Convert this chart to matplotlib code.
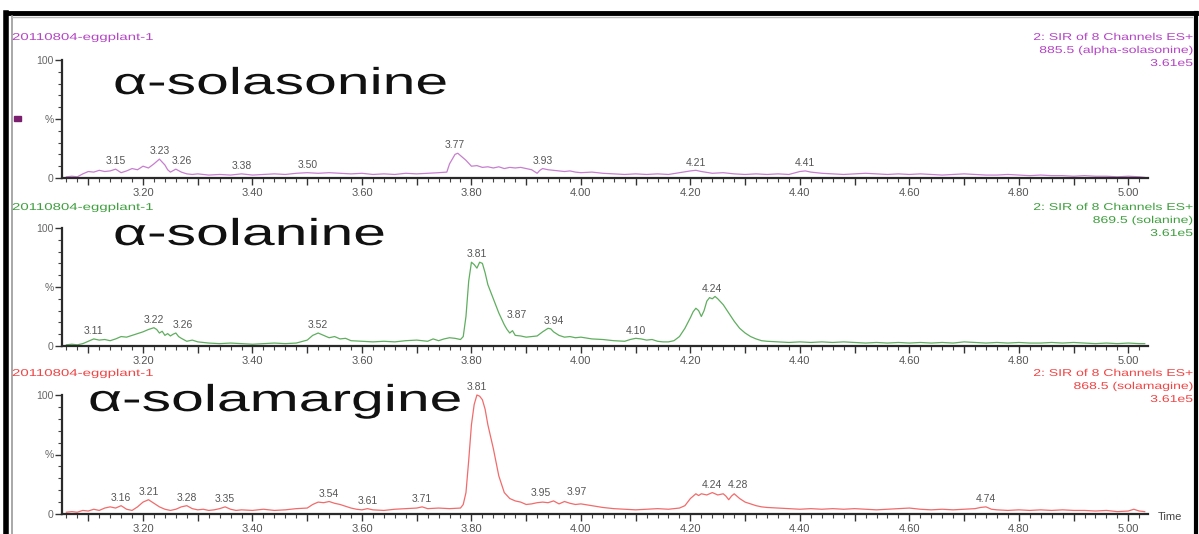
import numpy as np
import matplotlib
matplotlib.use("Agg")
import matplotlib.pyplot as plt
from matplotlib.patheffects import AbstractPathEffect
from matplotlib.transforms import Affine2D
from matplotlib.ticker import MultipleLocator, FixedLocator, FuncFormatter
from matplotlib.lines import Line2D
from matplotlib.patches import Rectangle

plt.rcParams["font.family"] = ["Liberation Sans", "DejaVu Sans"]

# ---------------------------------------------------------------- data
sample_name = "20110804-eggplant-1"
channel_title = "2: SIR of 8 Channels ES+"
scale_label = "3.61e5"
compounds = ["α-solasonine", "α-solanine", "α-solamargine"]
channels = ["885.5 (alpha-solasonine)", "869.5 (solanine)", "868.5 (solamagine)"]

solasonine_t = [3.06, 3.07, 3.08, 3.09, 3.10, 3.11, 3.12, 3.13, 3.14, 3.15, 3.16, 3.17, 3.18, 3.19,
                3.20, 3.21, 3.22, 3.23, 3.24, 3.245, 3.25, 3.26, 3.27, 3.28, 3.29, 3.30, 3.32, 3.34,
                3.36, 3.38, 3.40, 3.42, 3.44, 3.46, 3.48, 3.50, 3.52, 3.54, 3.56, 3.58, 3.60, 3.62,
                3.64, 3.66, 3.68, 3.70, 3.72, 3.74, 3.755, 3.76, 3.77, 3.775, 3.78, 3.79, 3.80, 3.81,
                3.82, 3.83, 3.84, 3.85, 3.86, 3.87, 3.88, 3.89, 3.90, 3.91, 3.92, 3.925, 3.93, 3.94,
                3.95, 3.96, 3.97, 3.98, 3.99, 4.00, 4.02, 4.04, 4.06, 4.08, 4.10, 4.12, 4.14, 4.16,
                4.18, 4.20, 4.21, 4.22, 4.24, 4.26, 4.28, 4.30, 4.32, 4.34, 4.36, 4.38, 4.40, 4.41,
                4.42, 4.44, 4.46, 4.48, 4.50, 4.52, 4.54, 4.56, 4.58, 4.60, 4.62, 4.64, 4.66, 4.68,
                4.70, 4.72, 4.74, 4.76, 4.78, 4.80, 4.82, 4.84, 4.86, 4.88, 4.90, 4.92, 4.94, 4.96,
                4.98, 5.00, 5.02, 5.03]
solasonine_pct = [1.0, 1.5, 1.0, 3.5, 5.5, 5.0, 6.5, 5.5, 6.0, 7.5, 4.5, 6.0, 8.0, 7.0,
                  10.0, 8.5, 12.0, 16.0, 11.0, 7.0, 5.0, 7.5, 5.0, 3.5, 3.0, 3.5, 2.5, 3.0,
                  2.5, 3.5, 2.5, 3.0, 3.5, 3.0, 4.0, 4.5, 4.0, 4.5, 4.0, 3.5, 4.0, 3.0,
                  3.5, 3.0, 4.0, 3.5, 4.0, 4.5, 5.0, 12.0, 20.0, 21.0, 19.0, 15.0, 10.0, 10.5,
                  9.0, 9.5, 8.5, 9.5, 8.0, 9.0, 8.5, 9.0, 8.0, 7.0, 4.0, 6.5, 8.0, 7.0,
                  6.5, 6.0, 5.5, 6.0, 5.0, 4.5, 5.0, 4.0, 3.5, 3.0, 3.5, 3.0, 3.5, 3.0,
                  4.5, 6.0, 6.5, 5.5, 4.0, 4.5, 3.5, 3.0, 3.5, 3.0, 3.5, 3.0, 5.5, 6.0,
                  5.0, 4.0, 3.5, 3.0, 3.5, 4.0, 3.5, 3.0, 3.5, 3.0, 3.5, 3.0, 2.5, 3.0,
                  3.5, 3.0, 2.5, 2.5, 3.0, 2.5, 2.0, 2.5, 2.0, 2.0, 1.5, 2.0, 1.5, 1.5,
                  1.0, 1.5, 1.0, 0.5]
solasonine_peaks = ["3.15", "3.23", "3.26", "3.38", "3.50", "3.77", "3.93", "4.21", "4.41"]

solanine_t = [3.06, 3.07, 3.08, 3.09, 3.10, 3.11, 3.12, 3.13, 3.14, 3.15, 3.16, 3.17, 3.18, 3.19,
              3.20, 3.21, 3.22, 3.225, 3.23, 3.235, 3.24, 3.245, 3.25, 3.255, 3.26, 3.265, 3.27,
              3.28, 3.29, 3.30, 3.32, 3.34, 3.36, 3.38, 3.40, 3.42, 3.44, 3.46, 3.48, 3.50, 3.51,
              3.52, 3.53, 3.54, 3.55, 3.56, 3.57, 3.58, 3.60, 3.62, 3.64, 3.66, 3.68, 3.70, 3.72,
              3.73, 3.74, 3.75, 3.76, 3.77, 3.78, 3.785, 3.79, 3.795, 3.80, 3.805, 3.81, 3.815,
              3.82, 3.825, 3.83, 3.84, 3.85, 3.86, 3.865, 3.87, 3.875, 3.88, 3.89, 3.90, 3.91,
              3.92, 3.93, 3.94, 3.945, 3.95, 3.96, 3.97, 3.98, 3.99, 4.00, 4.02, 4.04, 4.06, 4.08,
              4.09, 4.10, 4.11, 4.12, 4.13, 4.14, 4.15, 4.16, 4.17, 4.18, 4.19, 4.20, 4.205, 4.21,
              4.215, 4.22, 4.225, 4.23, 4.235, 4.24, 4.245, 4.25, 4.26, 4.27, 4.28, 4.29, 4.30,
              4.31, 4.32, 4.33, 4.34, 4.36, 4.38, 4.40, 4.42, 4.44, 4.46, 4.48, 4.50, 4.52, 4.54,
              4.56, 4.58, 4.60, 4.62, 4.64, 4.66, 4.68, 4.70, 4.72, 4.74, 4.76, 4.78, 4.80, 4.82,
              4.84, 4.86, 4.88, 4.90, 4.92, 4.94, 4.96, 4.98, 5.00, 5.02, 5.03]
solanine_pct = [1.0, 1.5, 1.0, 2.0, 4.0, 6.0, 5.0, 5.5, 4.5, 6.0, 8.0, 7.5, 9.0, 10.5,
                12.0, 14.0, 15.5, 14.0, 11.0, 12.5, 9.0, 10.5, 8.5, 10.0, 11.0, 8.0, 6.5,
                4.0, 5.0, 3.5, 2.5, 2.0, 2.5, 2.0, 1.5, 2.0, 2.5, 2.0, 2.5, 5.0, 9.0,
                11.0, 9.0, 7.0, 8.0, 6.0, 6.5, 4.5, 4.0, 3.5, 4.0, 3.5, 4.5, 5.0, 4.0,
                6.0, 4.5, 6.0, 7.0, 6.5, 5.5, 8.0, 25.0, 55.0, 71.0, 69.0, 66.0, 71.0,
                70.0, 62.0, 52.0, 40.0, 28.0, 18.0, 14.0, 11.0, 13.0, 9.0, 8.5, 7.5, 8.0,
                8.5, 12.0, 15.0, 14.5, 12.0, 9.0, 7.5, 8.0, 7.0, 7.5, 6.0, 5.5, 4.5, 4.0,
                5.5, 6.5, 6.0, 5.0, 5.5, 4.0, 3.5, 3.5, 4.5, 8.0, 15.0, 24.0, 29.0, 32.0,
                30.0, 25.0, 30.0, 38.0, 41.0, 40.0, 42.0, 40.0, 35.0, 28.0, 21.0, 15.0, 11.0,
                8.0, 6.0, 4.5, 4.0, 3.5, 3.0, 3.5, 3.0, 3.5, 3.0, 3.5, 3.0, 2.5, 3.0,
                2.5, 3.0, 2.5, 3.0, 2.5, 3.0, 2.5, 3.5, 3.0, 2.5, 3.0, 2.5, 3.0, 2.5,
                2.5, 3.0, 2.5, 3.0, 2.5, 2.0, 2.5, 2.0, 2.5, 2.0, 2.0]
solanine_peaks = ["3.11", "3.22", "3.26", "3.52", "3.81", "3.87", "3.94", "4.10", "4.24"]

solamargine_t = [3.06, 3.07, 3.08, 3.09, 3.10, 3.11, 3.12, 3.13, 3.14, 3.15, 3.16, 3.17, 3.18,
                 3.19, 3.20, 3.21, 3.22, 3.23, 3.24, 3.25, 3.26, 3.27, 3.28, 3.29, 3.30, 3.31,
                 3.32, 3.33, 3.34, 3.35, 3.36, 3.37, 3.38, 3.40, 3.42, 3.44, 3.46, 3.48, 3.50,
                 3.51, 3.52, 3.53, 3.54, 3.55, 3.56, 3.57, 3.58, 3.59, 3.60, 3.61, 3.62, 3.64,
                 3.66, 3.68, 3.70, 3.71, 3.72, 3.74, 3.76, 3.78, 3.785, 3.79, 3.795, 3.80, 3.805,
                 3.81, 3.815, 3.82, 3.825, 3.83, 3.84, 3.85, 3.86, 3.87, 3.88, 3.89, 3.90, 3.91,
                 3.92, 3.93, 3.94, 3.95, 3.96, 3.97, 3.98, 3.99, 4.00, 4.02, 4.04, 4.06, 4.08,
                 4.10, 4.12, 4.14, 4.16, 4.18, 4.19, 4.20, 4.21, 4.215, 4.22, 4.23, 4.24, 4.25,
                 4.26, 4.265, 4.27, 4.275, 4.28, 4.29, 4.30, 4.31, 4.32, 4.33, 4.34, 4.36, 4.38,
                 4.40, 4.42, 4.44, 4.46, 4.48, 4.50, 4.52, 4.54, 4.56, 4.58, 4.60, 4.62, 4.64,
                 4.66, 4.68, 4.70, 4.72, 4.73, 4.74, 4.75, 4.76, 4.78, 4.80, 4.82, 4.84, 4.86,
                 4.88, 4.90, 4.92, 4.94, 4.96, 4.98, 5.00, 5.01, 5.02, 5.03]
solamargine_pct = [1.5, 2.0, 1.5, 3.0, 2.5, 4.0, 3.0, 5.0, 6.0, 5.0, 7.0, 4.0, 3.0,
                   6.0, 10.0, 12.0, 9.0, 6.0, 4.0, 3.0, 4.0, 6.0, 7.0, 4.5, 3.5, 4.0,
                   3.0, 3.5, 4.5, 6.0, 4.0, 3.0, 3.5, 3.0, 4.0, 3.0, 3.5, 4.5, 5.0,
                   8.0, 10.0, 9.5, 10.5, 9.0, 8.0, 6.5, 5.0, 4.0, 3.5, 4.5, 3.5, 3.0,
                   4.0, 4.5, 5.0, 6.0, 4.5, 5.0, 4.5, 5.0, 8.0, 18.0, 45.0, 75.0, 92.0,
                   100.0, 99.0, 96.0, 88.0, 75.0, 55.0, 32.0, 18.0, 13.0, 11.0, 10.0, 8.0, 8.5,
                   9.5, 10.0, 9.5, 11.0, 8.5, 10.5, 9.0, 8.0, 8.5, 7.0, 5.5, 4.5, 4.0,
                   3.5, 4.0, 4.5, 4.0, 5.0, 7.0, 13.0, 17.0, 15.5, 17.0, 16.0, 18.0, 16.0,
                   17.0, 15.0, 12.0, 15.0, 17.0, 13.0, 10.0, 8.5, 7.0, 6.0, 5.5, 5.0, 4.5,
                   4.0, 4.5, 4.0, 4.5, 4.0, 4.5, 4.0, 3.5, 4.0, 4.5, 5.0, 4.0, 3.5,
                   4.0, 3.5, 4.0, 4.5, 5.5, 6.0, 4.0, 3.5, 3.0, 3.5, 3.0, 3.5, 3.0,
                   3.5, 3.0, 3.0, 2.5, 3.0, 2.0, 2.5, 4.0, 2.5, 2.0]
solamargine_peaks = ["3.16", "3.21", "3.28", "3.35", "3.54", "3.61", "3.71", "3.81",
                     "3.95", "3.97", "4.24", "4.28", "4.74"]

trace_colors = ["#c77fcf", "#5fae5f", "#f26b6b"]
text_colors = ["#b445c4", "#3f9f3f", "#f04545"]

# nudges (in points) for peak labels that would otherwise collide
label_nudge = {
    (0, "3.26"): (4, 0),
    (1, "3.26"): (5, 0),
    (1, "3.87"): (5, 5),
    (1, "3.94"): (4, 0),
    (2, "3.95"): (-9, 0),
    (2, "3.97"): (9, 1),
    (2, "4.28"): (3, 1),
}


# ------------------------------------------------------------- helpers
class StretchX(AbstractPathEffect):
    """Widen glyphs horizontally about the left edge, centre or right edge."""

    def __init__(self, sx, anchor="left"):
        super().__init__()
        self.sx = sx
        self.anchor = anchor

    def draw_path(self, renderer, gc, tpath, affine, rgbFace=None):
        if self.anchor == "left":
            cx = 0.0
        else:
            ext = tpath.get_extents()
            cx = ext.x1 if self.anchor == "right" else 0.5 * (ext.x0 + ext.x1)
        widen = Affine2D().translate(-cx, 0).scale(self.sx, 1.0).translate(cx, 0)
        renderer.draw_path(gc, tpath, widen + affine, rgbFace)


W, H = 1199, 534


def fx(x):
    return x / W


def fy(y):
    return 1 - y / H


fig = plt.figure(figsize=(W / 100, H / 100), dpi=100)
fig.patch.set_facecolor("white")

series = [
    (solasonine_t, solasonine_pct, solasonine_peaks),
    (solanine_t, solanine_pct, solanine_peaks),
    (solamargine_t, solamargine_pct, solamargine_peaks),
]

# panel geometry: pixel rows of the 0 % and 100 % lines
rows = [(178, 60), (346, 228), (514, 395)]
title_pos = [(113, 94), (113, 245), (88, 411)]
header_y = [37, 207, 373]
ax_left, ax_right = 62, 1148

for i, ((t, pct, peaks), (y0, y100)) in enumerate(zip(series, rows)):
    ax = fig.add_axes([fx(ax_left), fy(y0), fx(ax_right - ax_left), (y0 - y100) / H])
    ax.set_facecolor("none")
    ax.plot(t, pct, color=trace_colors[i], lw=0.9, clip_on=False)
    ax.set_xlim(3.052, 5.036)
    ax.set_ylim(0, 100)

    for s in ("top", "right"):
        ax.spines[s].set_visible(False)
    for s in ("left", "bottom"):
        ax.spines[s].set_linewidth(1.6)
        ax.spines[s].set_color("#2a2a2a")

    ax.xaxis.set_major_locator(FixedLocator(np.round(np.arange(3.1, 5.01, 0.1), 2)))
    ax.xaxis.set_minor_locator(MultipleLocator(0.02))
    ax.xaxis.set_major_formatter(
        FuncFormatter(lambda v, p: f"{v:.2f}" if round(v * 10) % 2 == 0 else ""))
    ax.yaxis.set_major_locator(FixedLocator([0, 50, 100]))
    ax.yaxis.set_minor_locator(MultipleLocator(10))
    ax.yaxis.set_major_formatter(FuncFormatter(lambda v, p: {0: "0", 50: "%", 100: "100"}[int(v)]))
    ax.tick_params(axis="x", which="major", length=5, width=1.0, color="#333333",
                   labelsize=8, labelcolor="#555555", pad=2)
    ax.tick_params(axis="x", which="minor", length=3, width=0.8, color="#444444")
    ax.tick_params(axis="y", which="major", length=5, width=1.0, color="#333333",
                   labelsize=7.5, labelcolor="#666666", pad=1)
    ax.tick_params(axis="y", which="minor", length=3, width=0.8, color="#444444")

    # retention-time labels above each peak
    ta, pa = np.asarray(t), np.asarray(pct)
    for lab in peaks:
        tv = float(lab)
        near = np.abs(ta - tv) <= 0.006
        yv = pa[near].max() if near.any() else np.interp(tv, ta, pa)
        dx, dy = label_nudge.get((i, lab), (0, 0))
        ax.annotate(lab, (tv, yv), xytext=(dx, 2 + dy), textcoords="offset points",
                    ha="center", va="bottom", fontsize=7.5, color="#555555",
                    annotation_clip=False)

    # compound name
    tx, ty = title_pos[i]
    fig.text(fx(tx), fy(ty), compounds[i], fontsize=27, color="#111111",
             ha="left", va="baseline", path_effects=[StretchX(1.57, "left")])

    # sample name and channel description
    hy = header_y[i]
    fig.text(fx(12), fy(hy), sample_name, fontsize=7.2, color=text_colors[i],
             ha="left", va="center", path_effects=[StretchX(1.5, "left")])
    for k, line in enumerate([channel_title, channels[i], scale_label]):
        fig.text(fx(1193), fy(hy + 13 * k), line, fontsize=7.2, color=text_colors[i],
                 ha="right", va="center", path_effects=[StretchX(1.4, "right")])

fig.text(fx(1158), fy(517), "Time", fontsize=8, color="#444444", ha="left", va="center")

# channel marker on the first trace
fig.add_artist(Rectangle((fx(14), fy(121)), 7 / W, 5 / H, color="#7a1f6e",
                         transform=fig.transFigure))

# window frame
for xs, ys, lw, c in [
    ([6, 6], [13, 540], 4, "black"),
    ([6, 1196], [13, 13], 3.5, "black"),
    ([1196, 1196], [13, 540], 3, "black"),
    ([12, 12], [16, 540], 1.2, "#999999"),
    ([12, 1192], [16.5, 16.5], 1.0, "#bbbbbb"),
]:
    fig.add_artist(Line2D([fx(v) for v in xs], [fy(v) for v in ys], lw=lw, color=c,
                          transform=fig.transFigure))

fig.savefig("out.png", dpi=100, facecolor="white")
